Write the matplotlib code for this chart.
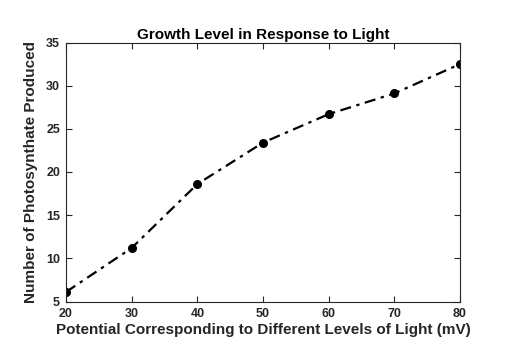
import matplotlib
matplotlib.use("Agg")
import matplotlib.pyplot as plt

x_values = [20, 30, 40, 50, 60, 70, 80]
y_values = [6.1, 11.2, 18.6, 23.4, 26.7, 29.1, 32.5]
x_ticks = [20, 30, 40, 50, 60, 70, 80]
y_ticks = [5, 10, 15, 20, 25, 30, 35]

plt.rcParams['font.family'] = ['Liberation Sans', 'DejaVu Sans']
plt.rcParams['font.weight'] = 'bold'

fig = plt.figure(figsize=(5.09, 3.6), dpi=100)
ax = fig.add_axes([66/509, 1 - 301.5/360, (460 - 66)/509, (301.5 - 42.5)/360])
ax.plot(x_values, y_values, linestyle='-.', color='black', linewidth=1.6,
        marker='o', markersize=5.5, dashes=(5, 2.5, 1.5, 2.5))
ax.set_xlim(20, 80)
ax.set_ylim(5, 35)
ax.set_xticks(x_ticks)
ax.set_yticks(y_ticks)
ax.tick_params(direction='in', top=True, right=True, length=4, width=0.8,
               colors='#262626', labelsize=9)
ax.tick_params(axis='x', pad=4.8)
ax.tick_params(axis='y', pad=4.3)
for lab in ax.get_xticklabels() + ax.get_yticklabels():
    lab.set_fontweight('bold')
for s in ax.spines.values():
    s.set_color('#262626')
    s.set_linewidth(0.8)
ax.set_xlabel('Potential Corresponding to Different Levels of Light (mV)',
              fontsize=11, fontweight='bold', labelpad=2, color='#262626')
ax.set_ylabel('Number of Photosynthate Produced', fontsize=11,
              fontweight='bold', labelpad=6, color='#262626')
ax.set_title('Growth Level in Response to Light', fontsize=11,
             fontweight='bold', pad=2.5)
fig.savefig('out.png', dpi=100)
